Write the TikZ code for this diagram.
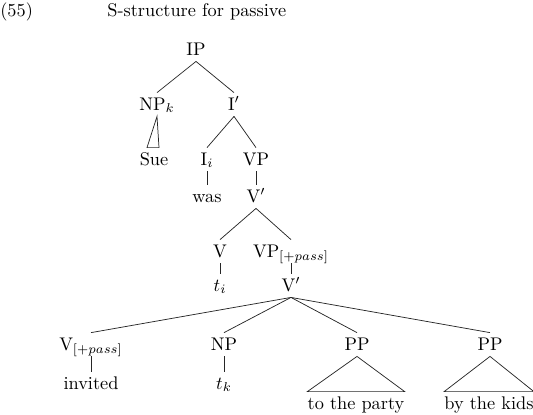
\documentclass[tikz,border=0pt]{standalone}
\usepackage{amsmath,amssymb}
\usepackage{tikz}
\usetikzlibrary{calc,positioning}
\tikzset{cat/.style={anchor=base,inner xsep=1pt,inner ysep=2pt,text height=7.3pt,text depth=1.3pt},
  phrase/.style={anchor=base,inner xsep=0pt,inner ysep=2pt,text height=7.3pt,text depth=1.3pt},
  branch/.style={line width=.4pt,black!85},
  heading/.style={anchor=base west,inner sep=0pt}}
\newcommand{\pss}{$_{[+pass]}$}
\begin{document}
\begin{tikzpicture}[x=.5464pt,y=-.5464pt]
\useasboundingbox (0,0) rectangle (533,414);
\node[heading] (ex) at (0,16) {(55)};
\node[heading] (title) at (107,16) {S-structure for passive};
% tree
\node[cat] (IP) at (196,55) {IP};
\node[cat] (NPk) at (157,110) {NP$_k$};\node[cat] (Ibar) at (234,110) {I$'$};
\node[cat] (Sue) at (154,165) {Sue};\node[cat] (Ii) at (207,165) {I$_i$};\node[cat] (VP) at (256,165) {VP};
\node[cat] (was) at (207,202) {was};\node[cat] (Vbar) at (256,202) {V$'$};
\node[cat] (V) at (220,257) {V};\node[cat] (VPpass) at (291,257) {VP\pss};
\node[cat] (ti) at (220,291) {$t_i$};\node[cat] (Vbarb) at (291,291) {V$'$};
\node[cat] (Vpass) at (91,350) {V\pss};\node[cat] (NP) at (224,350) {NP};
\node[cat] (PPa) at (357,350) {PP};\node[cat] (PPb) at (490,350) {PP};
\node[cat] (invited) at (91,389) {invited};\node[cat] (tk) at (224,389) {$t_k$};
\node[phrase] (party) at (356,409) {to the party};\node[phrase] (kids) at (489,409) {by the kids};
% branches
\draw[branch] (IP.south)--(NPk.north); \draw[branch] (IP.south)--(Ibar.north);
\draw[branch] (NPk.south)--($(Sue.north)+(-7,0)$)--($(Sue.north)+(5,0)$)--cycle;
\draw[branch] (Ibar.south)--(Ii.north); \draw[branch] (Ibar.south)--(VP.north);
\draw[branch] (Ii.south)--(was.north); \draw[branch] (VP.south)--(Vbar.north);
\draw[branch] (Vbar.south)--(V.north); \draw[branch] (Vbar.south)--(VPpass.north);
\draw[branch] (V.south)--(ti.north); \draw[branch] (VPpass.south)--(Vbarb.north);
\foreach \d in {Vpass,NP,PPa,PPb} \draw[branch] (Vbarb.south)--(\d.north);
\draw[branch] (Vpass.south)--(invited.north); \draw[branch] (NP.south)--(tk.north);
\draw[branch] (PPa.south)--(party.north west)--(party.north east)--cycle;
\draw[branch] (PPb.south)--(kids.north west)--(kids.north east)--cycle;
\end{tikzpicture}
\end{document}
